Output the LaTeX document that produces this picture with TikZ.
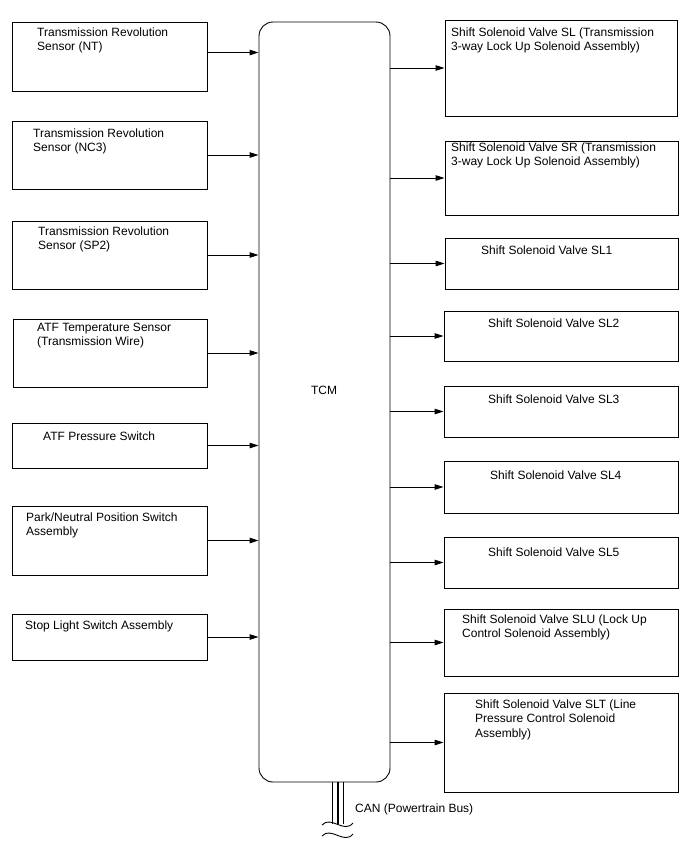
\documentclass[tikz,border=0pt]{standalone}
\usepackage{fontspec}
\setmainfont{Liberation Sans}
\usetikzlibrary{arrows.meta,positioning,calc}

\begin{document}
\begin{tikzpicture}[x=1pt, y=-1pt,
    unit/.style={draw, line width=0.9pt, inner sep=0pt, minimum width=195pt},
    valve/.style={draw, line width=0.9pt, inner sep=0pt, minimum width=234pt},
    txt/.style={anchor=north west, inner sep=0pt, align=left, font=\fontsize{12}{14.5}\selectfont},
    arr/.style={-{Triangle[length=9pt, width=5.5pt]}, line width=0.9pt}
]
\useasboundingbox (0,0) rectangle (688,852);

% TCM
\node[draw, line width=0.9pt, rounded corners=14pt, minimum width=131pt, minimum height=760pt] (tcm) at (324.5,402) {};
\node[txt, anchor=center] (tcm-t) at (324,390) {TCM};

% inputs
\node[unit, minimum height=69pt] (nt) at (109.5,56.5) {};
\node[txt] (nt-t) at (37,27.5) {Transmission Revolution\\Sensor (NT)};
\node[unit, minimum height=68pt] (nc3) at (109.5,155) {};
\node[txt] (nc3-t) at (33,128.5) {Transmission Revolution\\Sensor (NC3)};
\node[unit, minimum height=68pt] (sp2) at (109.5,255) {};
\node[txt] (sp2-t) at (38,226.5) {Transmission Revolution\\Sensor (SP2)};
\node[unit, minimum height=68pt, minimum width=194pt] (atft) at (110,353) {};
\node[txt] (atft-t) at (37,322.5) {ATF Temperature Sensor\\(Transmission Wire)};
\node[unit, minimum height=45pt] (atfp) at (109.5,445.5) {};
\node[txt] (atfp-t) at (43,431.5) {ATF Pressure Switch};
\node[unit, minimum height=69pt] (pnp) at (109.5,540.5) {};
\node[txt] (pnp-t) at (26,512.5) {Park/Neutral Position Switch\\Assembly};
\node[unit, minimum height=46pt] (stop) at (109.5,637) {};
\node[txt] (stop-t) at (25,620.5) {Stop Light Switch Assembly};

% outputs
\node[valve, minimum height=96pt, minimum width=232pt] (sl) at (561,68) {};
\node[txt] (sl-t) at (451,27.5) {Shift Solenoid Valve SL (Transmission\\3-way Lock Up Solenoid Assembly)};
\node[valve, minimum height=74pt, minimum width=233pt] (sr) at (561.5,178) {};
\node[txt] (sr-t) at (451,142.5) {Shift Solenoid Valve SR (Transmission\\3-way Lock Up Solenoid Assembly)};
\node[valve, minimum height=51pt, minimum width=233pt] (sl1) at (561.5,263.5) {};
\node[txt] (sl1-t) at (481,245.5) {Shift Solenoid Valve SL1};
\node[valve, minimum height=50pt] (sl2) at (561,336) {};
\node[txt] (sl2-t) at (488,318.5) {Shift Solenoid Valve SL2};
\node[valve, minimum height=51pt] (sl3) at (561,411.5) {};
\node[txt] (sl3-t) at (488,394.5) {Shift Solenoid Valve SL3};
\node[valve, minimum height=52pt] (sl4) at (561,487) {};
\node[txt] (sl4-t) at (490,470.5) {Shift Solenoid Valve SL4};
\node[valve, minimum height=51pt] (sl5) at (561,562.5) {};
\node[txt] (sl5-t) at (488,547.5) {Shift Solenoid Valve SL5};
\node[valve, minimum height=67pt] (slu) at (561,642.5) {};
\node[txt] (slu-t) at (462,614.5) {Shift Solenoid Valve SLU (Lock Up\\Control Solenoid Assembly)};
\node[valve, minimum height=99pt] (slt) at (561,742.5) {};
\node[txt] (slt-t) at (475,699.5) {Shift Solenoid Valve SLT (Line\\Pressure Control Solenoid\\Assembly)};

\draw[arr] ([yshift=4pt]nt.east) -- ([yshift=4pt]nt.east -| tcm.west);
\draw[arr] (nc3.east) -- (nc3.east -| tcm.west);
\draw[arr] (sp2.east) -- (sp2.east -| tcm.west);
\draw[arr] (atft.east) -- (atft.east -| tcm.west);
\draw[arr] (atfp.east) -- (atfp.east -| tcm.west);
\draw[arr] (pnp.east) -- (pnp.east -| tcm.west);
\draw[arr] (stop.east) -- (stop.east -| tcm.west);

\draw[arr] (sl.west -| tcm.east) -- (sl.west);
\draw[arr] (sr.west -| tcm.east) -- (sr.west);
\draw[arr] (sl1.west -| tcm.east) -- (sl1.west);
\draw[arr] (sl2.west -| tcm.east) -- (sl2.west);
\draw[arr] (sl3.west -| tcm.east) -- (sl3.west);
\draw[arr] (sl4.west -| tcm.east) -- (sl4.west);
\draw[arr] (sl5.west -| tcm.east) -- (sl5.west);
\draw[arr] (slu.west -| tcm.east) -- (slu.west);
\draw[arr] (slt.west -| tcm.east) -- (slt.west);

% CAN bus
\coordinate (can1) at (332.5,824);
\coordinate (can2) at (338,824);
\coordinate (can3) at (343.5,824);
\draw[line width=1.4pt] (can1) -- (can1 |- tcm.south);
\draw[line width=1.1pt] (can2) -- (can2 |- tcm.south);
\draw[line width=1.1pt] (can3) -- (can3 |- tcm.south);
\draw[line width=0.9pt] (322,825) .. controls (331,815) and (344,834) .. (353,823);
\draw[line width=0.9pt] (322,836) .. controls (331,826) and (344,845) .. (353,834);
\node[txt, anchor=west] (can-t) at (355,809) {CAN (Powertrain Bus)};
\end{tikzpicture}
\end{document}
